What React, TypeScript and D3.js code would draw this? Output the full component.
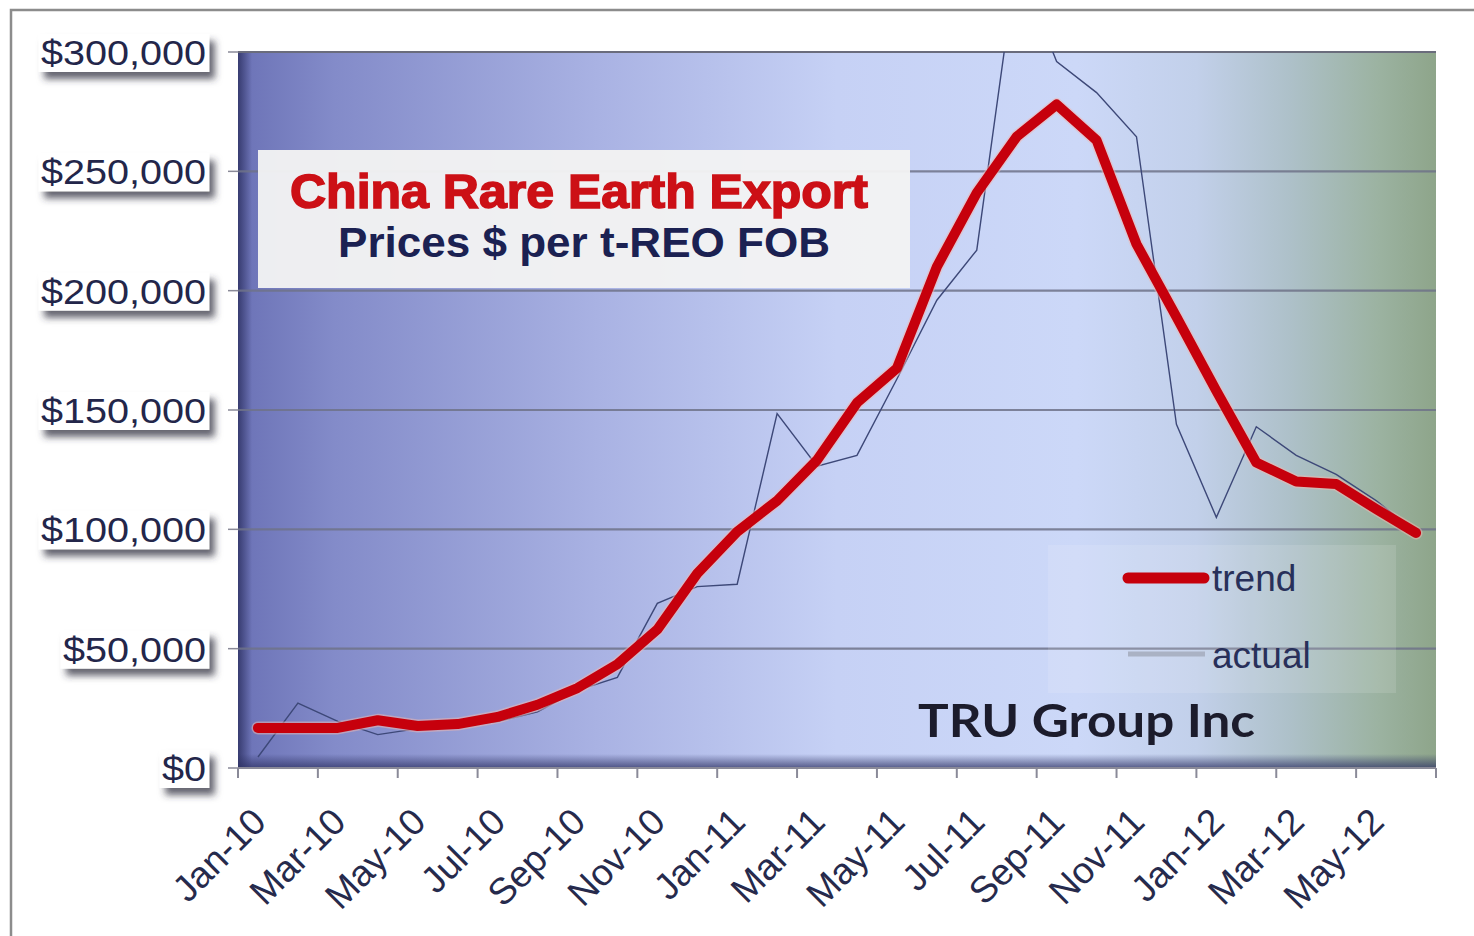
import { useEffect, useRef } from "react";
import * as d3 from "d3";

// monthly categories, Jan-10 .. Jun-12
const months = [
  "Jan-10", "Feb-10", "Mar-10", "Apr-10", "May-10", "Jun-10",
  "Jul-10", "Aug-10", "Sep-10", "Oct-10", "Nov-10", "Dec-10",
  "Jan-11", "Feb-11", "Mar-11", "Apr-11", "May-11", "Jun-11",
  "Jul-11", "Aug-11", "Sep-11", "Oct-11", "Nov-11", "Dec-11",
  "Jan-12", "Feb-12", "Mar-12", "Apr-12", "May-12", "Jun-12",
];

const actualPrices = [
  4600, 27200, 19500, 14000, 16500, 17500,
  19500, 23500, 32500, 38000, 69000, 76000,
  77000, 148500, 126500, 131000, 163000, 196000,
  217000, 338000, 296000, 283000, 264500, 144000,
  105000, 143000, 131000, 123000, 112000, 99000,
];

const trendPrices = [
  16800, 16800, 16800, 20000, 17600, 18400,
  21400, 26500, 33500, 43500, 58000, 81500,
  99000, 112000, 129000, 153000, 167500, 210000,
  241000, 264500, 278000, 263000, 219500, 189000,
  158000, 128000, 120000, 119000, 108500, 98500,
];

const yTicks = [0, 50000, 100000, 150000, 200000, 250000, 300000];

const titleLines = ["China Rare Earth Export", "Prices $ per t-REO FOB"];
const legendNames = ["trend", "actual"];
const sourceLabel = "TRU Group Inc";

function PriceChart({ width, height }) {
  const ref = useRef(null);

  useEffect(() => {
    const margin = { left: 238, top: 52, right: 38, bottom: 168 };
    const x0 = margin.left;
    const x1 = width - margin.right;
    const y0 = margin.top;
    const y1 = height - margin.bottom;

    const el = d3.select(ref.current);
    el.selectAll("*").remove();

    const defs = el.append("defs");

    // plot background gradient: slate blue -> pale lavender -> grey green
    const bg = defs
      .append("linearGradient")
      .attr("id", "plotBg")
      .attr("x1", "0%")
      .attr("x2", "100%");
    [
      [0, "#6b72b6"],
      [0.08, "#838bc9"],
      [0.3, "#a9b2e3"],
      [0.5, "#c6d1f5"],
      [0.7, "#ccd8f8"],
      [0.8, "#c2d0ea"],
      [0.88, "#adc0c8"],
      [0.95, "#9cb3a2"],
      [1, "#8ea58a"],
    ].forEach(([o, c]) => bg.append("stop").attr("offset", o).attr("stop-color", c));

    const leftShade = defs.append("linearGradient").attr("id", "leftShade").attr("x1", "0%").attr("x2", "100%");
    leftShade.append("stop").attr("offset", 0).attr("stop-color", "#2e3264").attr("stop-opacity", 0.85);
    leftShade.append("stop").attr("offset", 1).attr("stop-color", "#2e3264").attr("stop-opacity", 0);

    const bottomShade = defs.append("linearGradient").attr("id", "bottomShade").attr("x1", "0%").attr("x2", "0%").attr("y1", "0%").attr("y2", "100%");
    bottomShade.append("stop").attr("offset", 0).attr("stop-color", "#2e3264").attr("stop-opacity", 0);
    bottomShade.append("stop").attr("offset", 1).attr("stop-color", "#2e3264").attr("stop-opacity", 0.75);

    const shadow = defs.append("filter").attr("id", "lblShadow").attr("x", "-20%").attr("y", "-40%").attr("width", "150%").attr("height", "200%");
    shadow.append("feDropShadow").attr("dx", 5).attr("dy", 7).attr("stdDeviation", 3.5).attr("flood-color", "#303040").attr("flood-opacity", 0.75);

    defs.append("clipPath").attr("id", "plotClip").append("rect")
      .attr("x", x0).attr("y", y0).attr("width", x1 - x0).attr("height", y1 - y0);

    // outer frame
    el.append("rect")
      .attr("x", 11).attr("y", 10).attr("width", width + 20).attr("height", height + 20)
      .attr("fill", "#fff").attr("stroke", "#8c8c8c").attr("stroke-width", 2.5);

    const x = d3.scaleBand().domain(months).range([x0, x1]);
    const cx = (m) => x(m) + x.bandwidth() / 2;
    const y = d3.scaleLinear().domain([0, 300000]).range([y1, y0]);

    // plot area
    el.append("rect").attr("x", x0).attr("y", y0).attr("width", x1 - x0).attr("height", y1 - y0).attr("fill", "url(#plotBg)");
    el.append("rect").attr("x", x0).attr("y", y0).attr("width", 14).attr("height", y1 - y0).attr("fill", "url(#leftShade)");
    el.append("rect").attr("x", x0).attr("y", y1 - 14).attr("width", x1 - x0).attr("height", 14).attr("fill", "url(#bottomShade)");
    el.append("line").attr("x1", x0).attr("x2", x1).attr("y1", y0).attr("y2", y0).attr("stroke", "#6a6c7c").attr("stroke-width", 2);

    // gridlines
    el.append("g")
      .selectAll("line")
      .data(yTicks.filter((t) => t > 0 && t < 300000))
      .enter()
      .append("line")
      .attr("x1", x0).attr("x2", x1)
      .attr("y1", (d) => y(d)).attr("y2", (d) => y(d))
      .attr("stroke", "#6f7389").attr("stroke-width", 2.2).attr("opacity", 0.85);

    // y axis ticks
    el.append("g")
      .selectAll("line")
      .data(yTicks)
      .enter()
      .append("line")
      .attr("x1", x0 - 10).attr("x2", x0)
      .attr("y1", (d) => y(d)).attr("y2", (d) => y(d))
      .attr("stroke", "#8a8a98").attr("stroke-width", 1.5);

    // x axis line + ticks every 2 months
    el.append("line").attr("x1", x0).attr("x2", x1).attr("y1", y1).attr("y2", y1).attr("stroke", "#8a8a98").attr("stroke-width", 2);
    const tickXs = months.filter((m, i) => i % 2 === 0).map((m) => x(m)).concat([x1]);
    el.append("g")
      .selectAll("line")
      .data(tickXs)
      .enter()
      .append("line")
      .attr("x1", (d) => d).attr("x2", (d) => d)
      .attr("y1", y1).attr("y2", y1 + 10)
      .attr("stroke", "#8a8a98").attr("stroke-width", 2);

    // y labels in white boxes with drop shadow (text slightly wide, as in the source)
    const fmt = (v) => "$" + d3.format(",")(v);
    yTicks.forEach((t) => {
      const g = el.append("g").attr("transform", `translate(206, ${y(t)}) scale(1.1, 1)`);
      const rect = g.append("rect").attr("fill", "#fff").attr("filter", "url(#lblShadow)");
      const txt = g.append("text")
        .attr("x", 0).attr("y", 13)
        .attr("text-anchor", "end")
        .attr("font-family", "'Liberation Sans', Arial, sans-serif")
        .attr("font-size", 36)
        .attr("fill", "#23264a")
        .text(fmt(t));
      const bb = txt.node().getBBox();
      rect.attr("x", bb.x - 2).attr("y", -18).attr("width", bb.width + 5).attr("height", 38);
    });

    // x labels, every second month
    el.append("g")
      .selectAll("text")
      .data(months.filter((m, i) => i % 2 === 0))
      .enter()
      .append("text")
      .attr("transform", (m) => `translate(${x(m) + 30}, ${y1 + 56}) rotate(-45)`)
      .attr("text-anchor", "end")
      .attr("font-family", "'Liberation Sans', Arial, sans-serif")
      .attr("font-size", 37)
      .attr("fill", "#262a4c")
      .text((m) => m);

    // title box
    el.append("rect").attr("x", 258).attr("y", 150).attr("width", 652).attr("height", 138).attr("fill", "#f3f3f3").attr("opacity", 0.96);
    el.append("text")
      .attr("x", 579).attr("y", 208)
      .attr("text-anchor", "middle")
      .attr("font-family", "'Liberation Sans', Arial, sans-serif")
      .attr("font-weight", "bold").attr("font-size", 49)
      .attr("textLength", 578).attr("lengthAdjust", "spacingAndGlyphs")
      .attr("fill", "#cc1016").attr("stroke", "#cc1016").attr("stroke-width", 1.6)
      .text(titleLines[0]);
    el.append("text")
      .attr("x", 584).attr("y", 257)
      .attr("text-anchor", "middle")
      .attr("font-family", "'Liberation Sans', Arial, sans-serif")
      .attr("font-weight", "bold").attr("font-size", 43)
      .attr("textLength", 492).attr("lengthAdjust", "spacingAndGlyphs")
      .attr("fill", "#1b2152")
      .text(titleLines[1]);

    // legend backdrop
    el.append("rect").attr("x", 1048).attr("y", 545).attr("width", 348).attr("height", 148).attr("fill", "#ffffff").attr("opacity", 0.12);

    // series
    const line = d3.line().x((d) => cx(d.m)).y((d) => y(d.v));
    const plotG = el.append("g").attr("clip-path", "url(#plotClip)");

    plotG.append("path")
      .datum(months.map((m, i) => ({ m, v: actualPrices[i] })))
      .attr("d", line)
      .attr("fill", "none")
      .attr("stroke", "#3d4878")
      .attr("stroke-width", 1.4);

    plotG.append("path")
      .datum(months.map((m, i) => ({ m, v: trendPrices[i] })))
      .attr("d", line)
      .attr("fill", "none")
      .attr("stroke", "#f2b7b0")
      .attr("stroke-width", 13)
      .attr("stroke-linejoin", "round")
      .attr("stroke-linecap", "round")
      .attr("opacity", 0.5);

    plotG.append("path")
      .datum(months.map((m, i) => ({ m, v: trendPrices[i] })))
      .attr("d", line)
      .attr("fill", "none")
      .attr("stroke", "#c6000c")
      .attr("stroke-width", 10)
      .attr("stroke-linejoin", "round")
      .attr("stroke-linecap", "round");

    // legend
    el.append("line").attr("x1", 1128).attr("x2", 1204).attr("y1", 578).attr("y2", 578)
      .attr("stroke", "#c6000c").attr("stroke-width", 11).attr("stroke-linecap", "round");
    el.append("line").attr("x1", 1128).attr("x2", 1205).attr("y1", 654).attr("y2", 654)
      .attr("stroke", "#aab2c4").attr("stroke-width", 5);
    legendNames.forEach((n, i) => {
      el.append("text")
        .attr("x", 1212).attr("y", i === 0 ? 591 : 668)
        .attr("font-family", "'Liberation Sans', Arial, sans-serif")
        .attr("font-size", 37)
        .attr("fill", "#28305a")
        .text(n);
    });

    el.append("text")
      .attr("x", 918).attr("y", 737)
      .attr("font-family", "Lato, 'Open Sans', sans-serif")
      .attr("font-weight", "bold").attr("font-size", 46)
      .attr("textLength", 337).attr("lengthAdjust", "spacingAndGlyphs")
      .attr("fill", "#1c1c2c")
      .text(sourceLabel);
  }, [width, height]);

  return (
    <svg
      ref={ref}
      width={width}
      height={height}
      style={{ position: "absolute", left: 0, top: 0, background: "#fff" }}
    />
  );
}

export default function App() {
  return <PriceChart width={1474} height={936} />;
}
